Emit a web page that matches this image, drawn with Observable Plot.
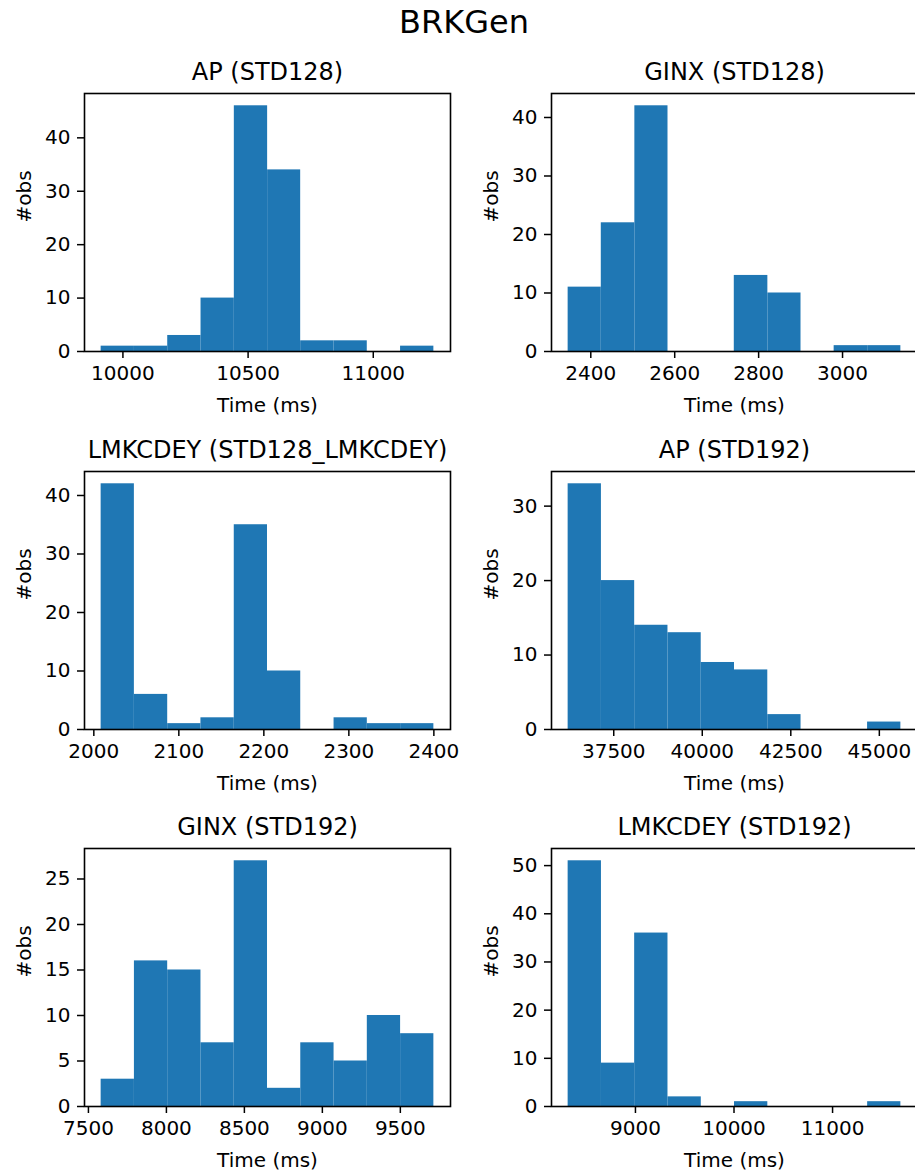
<!DOCTYPE html>
<html><head><meta charset="utf-8">
<script src="https://cdn.jsdelivr.net/npm/d3@7"></script>
<script src="https://cdn.jsdelivr.net/npm/@observablehq/plot@0.6"></script>
<style>
html,body{margin:0;padding:0;background:#fff;}
#fig{position:relative;width:915px;height:1173px;overflow:hidden;background:#fff;font-family:"DejaVu Sans",sans-serif;}
#fig svg{position:absolute;}
#suptitle{position:absolute;left:364px;top:6px;width:200px;text-align:center;font-size:32px;line-height:1;color:#000;font-family:"DejaVu Sans",sans-serif;}
</style></head><body>
<div id="fig"><div id="suptitle"></div></div>
<script>
// ---------------- data ----------------
const figTitle = "BRKGen";
const panelTitles = ["AP (STD128)", "GINX (STD128)", "LMKCDEY (STD128_LMKCDEY)", "AP (STD192)", "GINX (STD192)", "LMKCDEY (STD192)"];
const xLabel = "Time (ms)";
const yLabel = "#obs";

const edgesAP128 = [9913, 10046, 10179, 10312, 10445, 10578, 10710, 10843, 10976, 11109, 11242];
const countsAP128 = [1, 1, 3, 10, 46, 34, 2, 2, 0, 1];

const edgesGINX128 = [2346, 2425, 2505, 2584, 2663, 2742, 2822, 2901, 2980, 3060, 3139];
const countsGINX128 = [11, 22, 42, 0, 0, 13, 10, 0, 1, 1];

const edgesLMK128 = [2008.6, 2047.7, 2086.9, 2126.0, 2165.2, 2204.3, 2243.4, 2282.6, 2321.7, 2360.9, 2400.0];
const countsLMK128 = [42, 6, 1, 2, 35, 10, 0, 2, 1, 1];

const edgesAP192 = [36212, 37152, 38091, 39031, 39970, 40910, 41850, 42789, 43729, 44668, 45608];
const countsAP192 = [33, 20, 14, 13, 9, 8, 2, 0, 0, 1];

const edgesGINX192 = [7581.5, 7794.9, 8008.2, 8221.6, 8434.9, 8648.3, 8861.6, 9075.0, 9288.3, 9501.7, 9715.0];
const countsGINX192 = [3, 16, 15, 7, 27, 2, 7, 5, 10, 8];

const edgesLMK192 = [8317, 8655, 8992, 9330, 9668, 10005, 10343, 10681, 11018, 11356, 11693];
const countsLMK192 = [51, 9, 36, 2, 0, 1, 0, 0, 0, 1];

const xTicksAP128 = [10000, 10500, 11000];
const xTicksGINX128 = [2400, 2600, 2800, 3000];
const xTicksLMK128 = [2000, 2100, 2200, 2300, 2400];
const xTicksAP192 = [37500, 40000, 42500, 45000];
const xTicksGINX192 = [7500, 8000, 8500, 9000, 9500];
const xTicksLMK192 = [9000, 10000, 11000];

const yTicksAP128 = [0, 10, 20, 30, 40];
const yTicksGINX128 = [0, 10, 20, 30, 40];
const yTicksLMK128 = [0, 10, 20, 30, 40];
const yTicksAP192 = [0, 10, 20, 30];
const yTicksGINX192 = [0, 5, 10, 15, 20, 25];
const yTicksLMK192 = [0, 10, 20, 30, 40, 50];

// ---------------- layout ----------------
const panels = [
  {edges: edgesAP128, counts: countsAP128, xt: xTicksAP128, yt: yTicksAP128},
  {edges: edgesGINX128, counts: countsGINX128, xt: xTicksGINX128, yt: yTicksGINX128},
  {edges: edgesLMK128, counts: countsLMK128, xt: xTicksLMK128, yt: yTicksLMK128},
  {edges: edgesAP192, counts: countsAP192, xt: xTicksAP192, yt: yTicksAP192},
  {edges: edgesGINX192, counts: countsGINX192, xt: xTicksGINX192, yt: yTicksGINX192},
  {edges: edgesLMK192, counts: countsLMK192, xt: xTicksLMK192, yt: yTicksLMK192}
];

const fig = document.getElementById("fig");
document.getElementById("suptitle").textContent = figTitle;

const frameW = 366, frameH = 258;
const colSvgLeft = [0, 460];
const colFrameLeft = [84, 551];
const rowFrameTop = [93, 471, 848];
const mTop = 50, mBottom = 66, mRight = 10;

panels.forEach((p, i) => {
  const col = i % 2, row = Math.floor(i / 2);
  const mLeft = colFrameLeft[col] - colSvgLeft[col];
  const bins = p.counts.map((c, k) => ({x1: p.edges[k], x2: p.edges[k + 1], count: c}));
  const lo = p.edges[0], hi = p.edges[p.edges.length - 1];
  const pad = (hi - lo) * 0.05;
  const maxC = d3.max(p.counts);
  const chart = Plot.plot({
    width: mLeft + frameW + mRight,
    height: mTop + frameH + mBottom,
    marginLeft: mLeft, marginRight: mRight, marginTop: mTop, marginBottom: mBottom,
    x: {domain: [lo - pad, hi + pad]},
    y: {domain: [0, maxC * 1.05]},
    style: {fontFamily: "DejaVu Sans", fontSize: "20px", color: "black", background: "white", overflow: "visible"},
    marks: [
      Plot.rectY(bins, {x1: "x1", x2: "x2", y: "count", fill: "#1f77b4", inset: 0}),
      Plot.frame({stroke: "black", strokeWidth: 1.6}),
      Plot.axisX({ticks: p.xt, tickSize: 7, tickPadding: 7, strokeWidth: 1.5, tickFormat: d => String(d), label: null, fontSize: 20}),
      Plot.axisY({ticks: p.yt, tickSize: 7, tickPadding: 7, strokeWidth: 1.5, tickFormat: d => String(d), label: null, fontSize: 20}),
      Plot.text([panelTitles[i]], {frameAnchor: "top", lineAnchor: "bottom", dy: -13.5, fontSize: 24, fill: "black"}),
      Plot.text([xLabel], {frameAnchor: "bottom", lineAnchor: "bottom", dy: 60, fontSize: 20, fill: "black"}),
      Plot.text([yLabel], {frameAnchor: "left", rotate: -90, dx: -59.5, fontSize: 20, fill: "black"})
    ]
  });
  chart.style.left = colSvgLeft[col] + "px";
  chart.style.top = (rowFrameTop[row] - mTop) + "px";
  fig.appendChild(chart);
});
</script>
</body></html>
